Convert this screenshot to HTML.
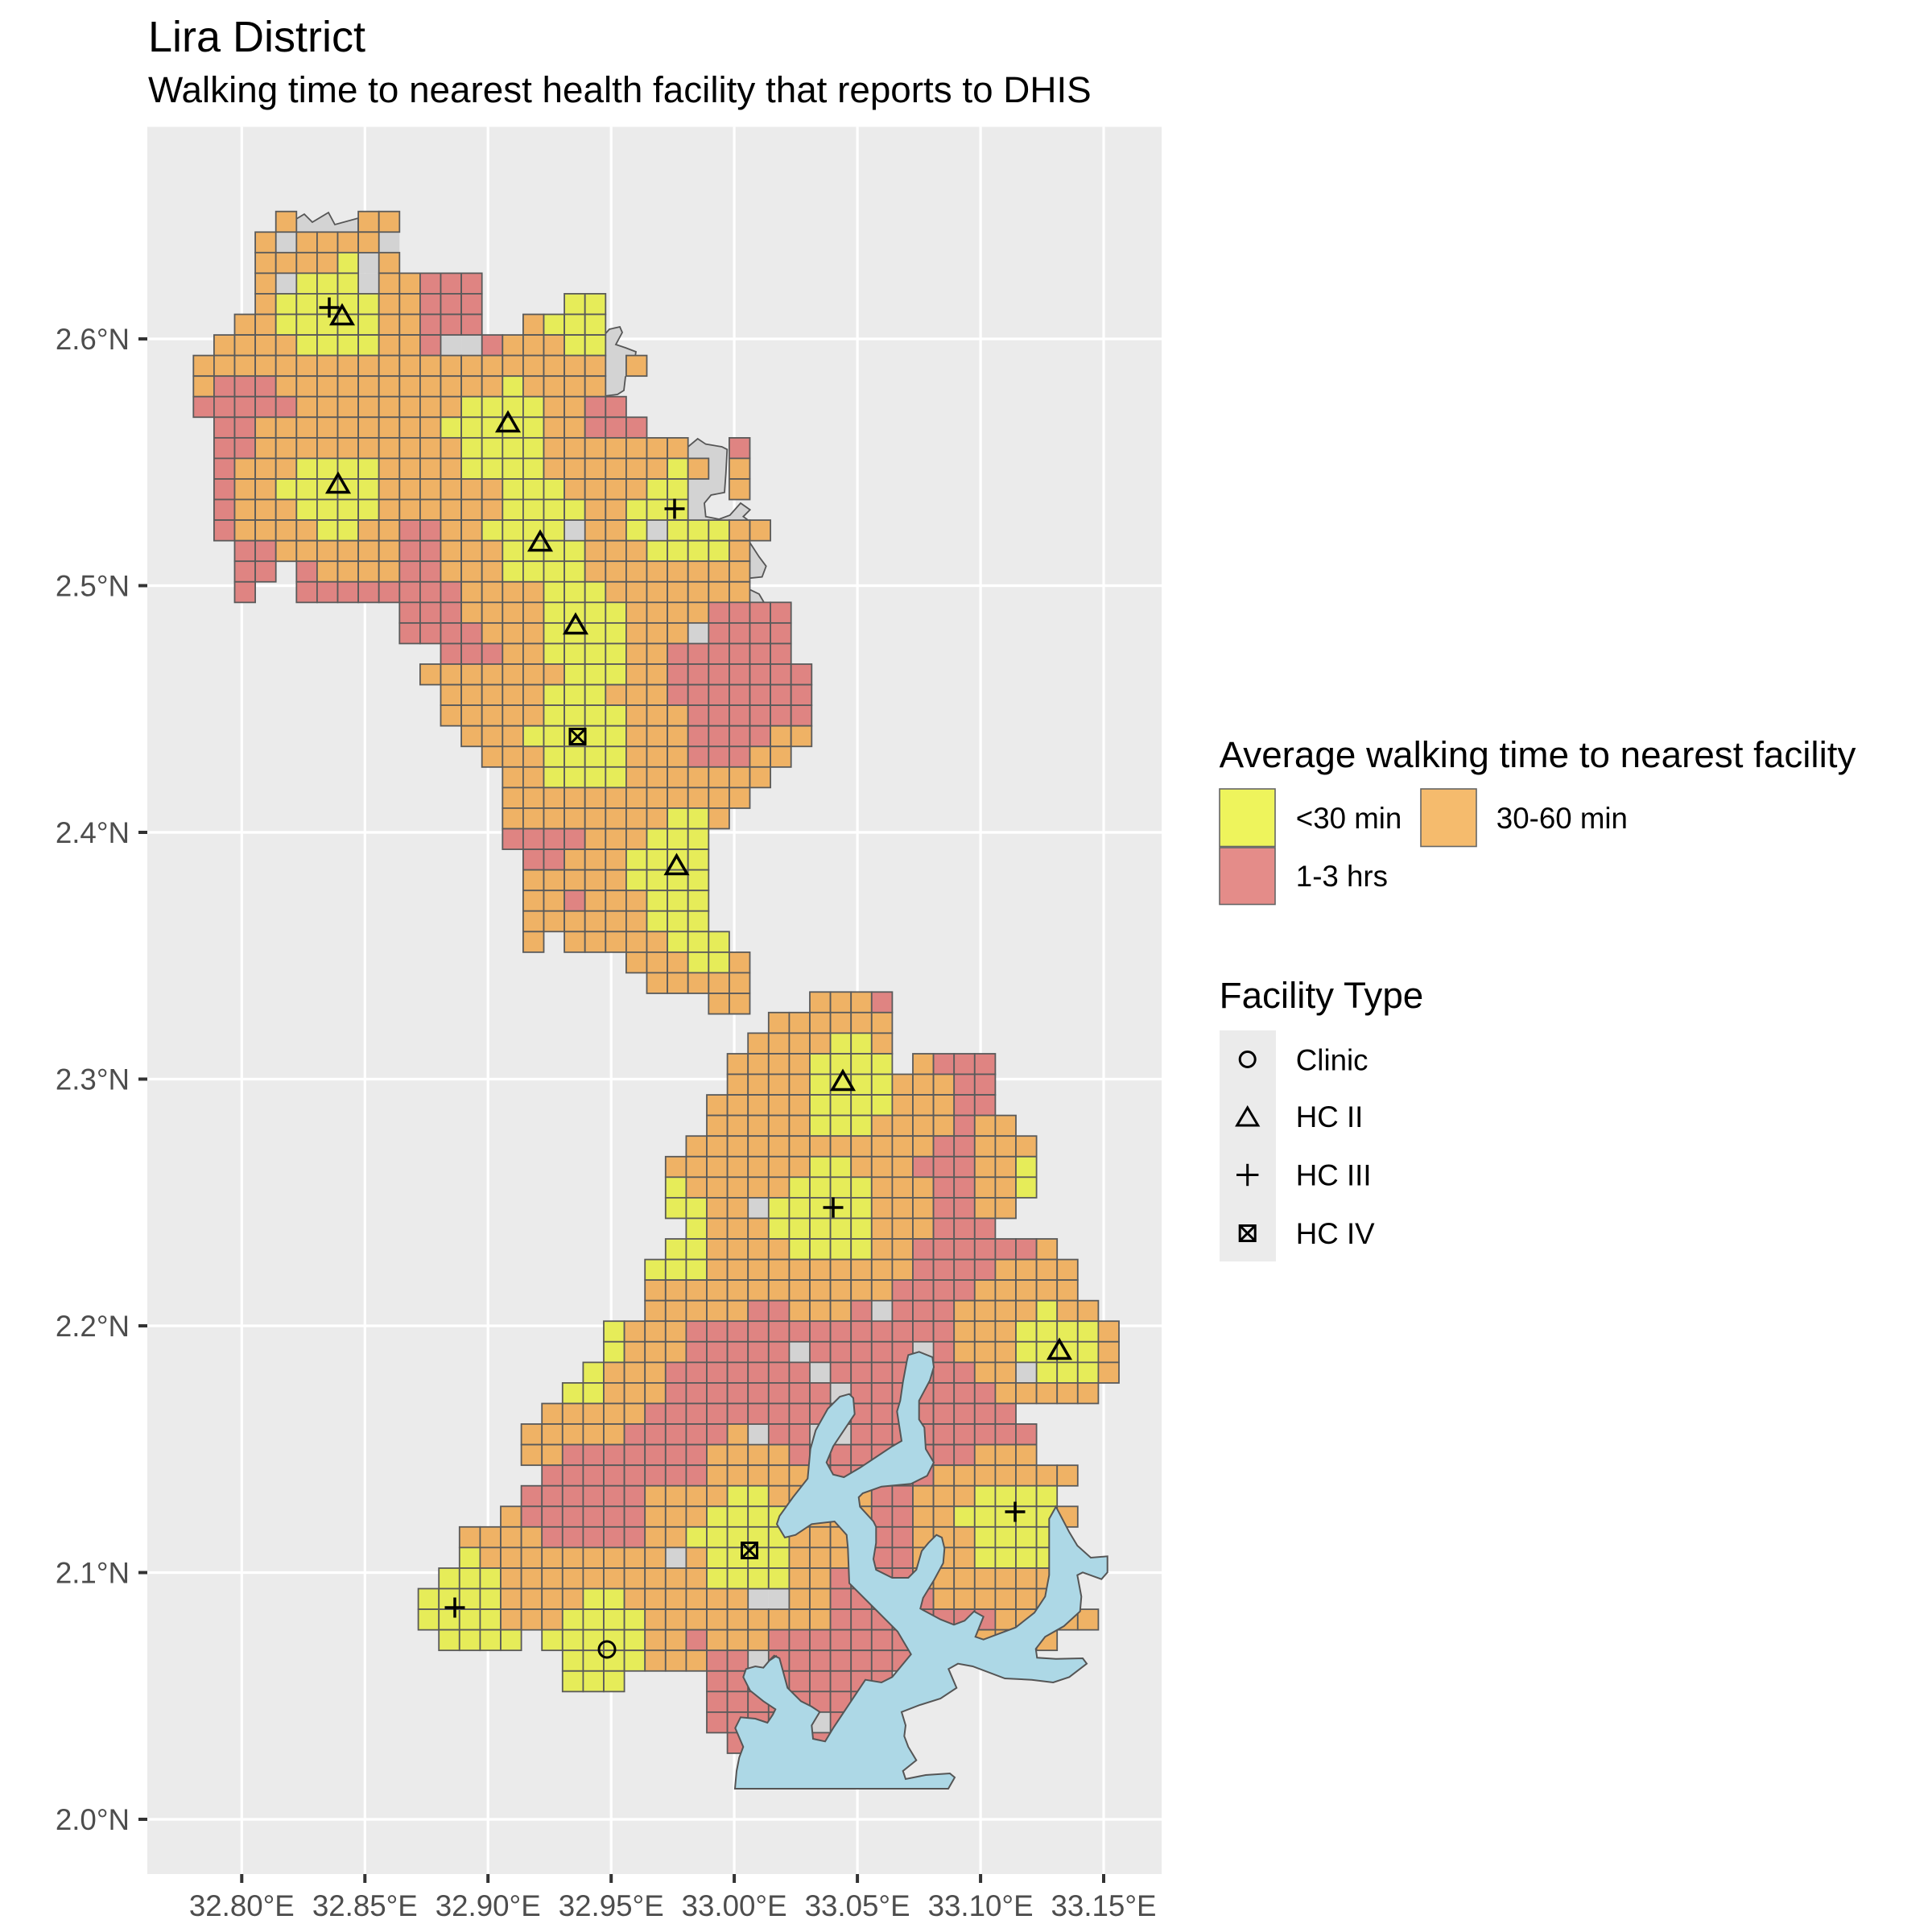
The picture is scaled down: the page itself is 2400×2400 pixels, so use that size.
<!DOCTYPE html>
<html><head><meta charset="utf-8">
<style>
html,body{margin:0;padding:0;background:#fff;}
svg{display:block;}
text{font-family:"Liberation Sans",Arial,sans-serif;}
</style></head>
<body>
<svg id="s" xmlns="http://www.w3.org/2000/svg" width="2400" height="2400" viewBox="0 0 2400 2400">
<rect x="0" y="0" width="2400" height="2400" fill="#fff"/>
<text x="184" y="64" font-size="54" fill="#000">Lira District</text>
<text x="184" y="127" font-size="45.8" fill="#000">Walking time to nearest health facility that reports to DHIS</text>
<rect x="183" y="157.6" width="1260" height="2170.4" fill="#ebebeb"/>
<g stroke="#fff" stroke-width="3.2">
<line x1="183" x2="1443" y1="421" y2="421"/>
<line x1="183" x2="1443" y1="727.5" y2="727.5"/>
<line x1="183" x2="1443" y1="1034" y2="1034"/>
<line x1="183" x2="1443" y1="1340.5" y2="1340.5"/>
<line x1="183" x2="1443" y1="1647" y2="1647"/>
<line x1="183" x2="1443" y1="1953.5" y2="1953.5"/>
<line x1="183" x2="1443" y1="2260" y2="2260"/>
<line y1="157.6" y2="2328" x1="300.3" x2="300.3"/>
<line y1="157.6" y2="2328" x1="453.3" x2="453.3"/>
<line y1="157.6" y2="2328" x1="606.2" x2="606.2"/>
<line y1="157.6" y2="2328" x1="759.2" x2="759.2"/>
<line y1="157.6" y2="2328" x1="912.1" x2="912.1"/>
<line y1="157.6" y2="2328" x1="1065.1" x2="1065.1"/>
<line y1="157.6" y2="2328" x1="1218.1" x2="1218.1"/>
<line y1="157.6" y2="2328" x1="1371" x2="1371"/>
</g>
<g stroke="#333" stroke-width="4">
<line x1="172" x2="183" y1="421" y2="421"/>
<line x1="172" x2="183" y1="727.5" y2="727.5"/>
<line x1="172" x2="183" y1="1034" y2="1034"/>
<line x1="172" x2="183" y1="1340.5" y2="1340.5"/>
<line x1="172" x2="183" y1="1647" y2="1647"/>
<line x1="172" x2="183" y1="1953.5" y2="1953.5"/>
<line x1="172" x2="183" y1="2260" y2="2260"/>
<line y1="2328" y2="2339" x1="300.3" x2="300.3"/>
<line y1="2328" y2="2339" x1="453.3" x2="453.3"/>
<line y1="2328" y2="2339" x1="606.2" x2="606.2"/>
<line y1="2328" y2="2339" x1="759.2" x2="759.2"/>
<line y1="2328" y2="2339" x1="912.1" x2="912.1"/>
<line y1="2328" y2="2339" x1="1065.1" x2="1065.1"/>
<line y1="2328" y2="2339" x1="1218.1" x2="1218.1"/>
<line y1="2328" y2="2339" x1="1371" x2="1371"/>
</g>
<g font-size="36.7" fill="#4d4d4d" text-anchor="end">
<text x="161" y="434">2.6°N</text>
<text x="161" y="740.5">2.5°N</text>
<text x="161" y="1047">2.4°N</text>
<text x="161" y="1353.5">2.3°N</text>
<text x="161" y="1660">2.2°N</text>
<text x="161" y="1966.5">2.1°N</text>
<text x="161" y="2273">2.0°N</text>
</g>
<g font-size="36.7" fill="#4d4d4d" text-anchor="middle">
<text x="300.3" y="2380">32.80°E</text>
<text x="453.3" y="2380">32.85°E</text>
<text x="606.2" y="2380">32.90°E</text>
<text x="759.2" y="2380">32.95°E</text>
<text x="912.1" y="2380">33.00°E</text>
<text x="1065.1" y="2380">33.05°E</text>
<text x="1218.1" y="2380">33.10°E</text>
<text x="1371" y="2380">33.15°E</text>
</g>
<g fill="#d3d3d3" stroke="#555" stroke-width="1.8">
<polygon points="366,290 368,272 378,266 388,276 408,264 416,279 445,271 445,290"/>
<polygon points="750.7,492 750.7,416 757,409 770,406 773,413 765,428 777,432 790,437 787,455 777,468 775,485 767,490"/>
<polygon points="852.7,750 852.7,556.7 866.7,545 876.7,551.7 896.7,555 903.3,558.3 901.7,588.3 900,611.7 883.3,615 875,625 876.7,641.7 893.3,645 906.7,640 920,625 931.7,633.3 923.3,641.7 930,646.7 930,671.7 943,691.7 951.7,703.3 946.7,716.7 930,718.3 930,731.7 943,738 950,750"/>
</g>
<g id="cells"></g>
<g id="lake"></g>
<g id="marks" fill="none" stroke="#000" stroke-width="3.5"></g>

<!-- legend -->
<text x="1514.6" y="953" font-size="45.8" fill="#000">Average walking time to nearest facility</text>
<rect x="1515" y="980" width="69" height="71.5" fill="#eef45c" stroke="#666" stroke-width="1.6"/>
<rect x="1515" y="1053" width="69" height="70.5" fill="#e48c89" stroke="#666" stroke-width="1.6"/>
<rect x="1765" y="980" width="69" height="71.5" fill="#f5bb6d" stroke="#666" stroke-width="1.6"/>
<g font-size="36.7" fill="#000">
<text x="1609.8" y="1029">&lt;30 min</text>
<text x="1858.8" y="1029">30-60 min</text>
<text x="1609.8" y="1101">1-3 hrs</text>
</g>
<text x="1514.6" y="1252" font-size="45.8" fill="#000">Facility Type</text>
<rect x="1515" y="1280" width="70" height="287" fill="#ebebeb"/>
<g fill="none" stroke="#000" stroke-width="3">
<circle cx="1549.7" cy="1316" r="9.5"/>
<polygon points="1549.7,1376 1536.7,1398 1562.7,1398"/>
<line x1="1536" x2="1563.4" y1="1459.5" y2="1459.5"/><line x1="1549.7" x2="1549.7" y1="1445.8" y2="1473.2"/>
<rect x="1540.2" y="1522.5" width="19" height="19"/><line x1="1540.2" y1="1522.5" x2="1559.2" y2="1541.5"/><line x1="1559.2" y1="1522.5" x2="1540.2" y2="1541.5"/>
</g>
<g font-size="36.7" fill="#000">
<text x="1609.8" y="1329.5">Clinic</text>
<text x="1609.8" y="1400">HC II</text>
<text x="1609.8" y="1472.5">HC III</text>
<text x="1609.8" y="1545">HC IV</text>
</g>
</svg>
<script>
(function(){
var NS="http://www.w3.org/2000/svg";
var col={y:"#e6ec59",o:"#efb265",r:"#df8482",g:"#d3d3d3"};
var N=[
[4,"o1 .3 o2"],[3,"o1 g1 o4 g1"],[3,"o4 y1 g1 o1"],[3,"o1 g1 y3 g1 o2 r3"],[3,"o1 y5 o2 r3 .4 y2"],
[2,"o2 y5 o2 r3 .2 o1 y3"],[1,"o4 y4 o2 r1 g2 r1 o3 y2"],[0,"o20 g1 o1"],[0,"o1 r3 o11 y1 o4"],
[0,"r5 o8 y4 o2 r2"],[1,"r2 o9 y5 o2 r3"],[1,"r2 o10 y4 o7 .2 r1"],[1,"r1 o3 y4 o4 y4 o6 y1 o1 .1 o1"],
[1,"r1 o2 y5 o6 y3 o4 y2 .2 o1"],[1,"r1 o3 y4 o6 y4 o2 y3"],[1,"r1 o4 y2 o2 r2 o2 y4 g1 o2 y1 g1 y3 o2"],
[2,"r2 o6 r2 o3 y4 o3 y4 o1"],[2,"r2 .1 r1 o4 r2 o3 y4 o8"],[2,"r1 .2 r8 o4 y3 o7"],
[10,"r3 o4 y4 o4 r4"],[10,"r4 o3 y4 o3 g1 r4"],[12,"r3 o2 y4 o2 r6"],[11,"o7 y3 o2 r7"],
[12,"o5 y3 o3 r7"],[12,"o5 y4 o3 r6"],[13,"o3 y5 o3 r4 o2"],[14,"o3 y4 o3 r3 o2"],[15,"o2 y4 o7"],
[15,"o12"],[15,"o8 y2 o1"],[15,"r4 o3 y3"],[16,"r2 o3 y4"],[16,"o5 y4"],[16,"o2 r1 o3 y3"],
[16,"o6 y3"],[16,"o1 .1 o5 y3"],[21,"o3 y2 o1"],[22,"o5"],[25,"o2"]
];
var S=[
[30,"o3 r1"],[28,"o6"],[27,"o4 y2 o1"],[26,"o4 y4 .1 o1 r3"],[26,"o4 y4 o3 r2"],[25,"o5 y4 o3 r2"],
[25,"o5 y3 o4 r1 o2"],[24,"o12 r2 o3"],[23,"o7 y2 o3 r3 o2 y1"],[23,"y1 o5 y4 o3 r2 o2 y1"],
[23,"y2 o2 g1 y5 o3 r2 o2"],[24,"y1 o3 y5 o3 r3"],[23,"y2 o4 y4 o2 r6 o1"],[22,"y3 o10 r4 o4"],
[22,"o12 r4 o5"],[22,"o5 r2 o3 r1 g1 r3 o4 y1 o2"],[20,"y1 o3 r13 o3 y4 o1"],
[20,"y1 o3 r5 g1 r5 g1 r1 o3 y4 o1"],[19,"y1 o3 r7 g1 r7 o2 g1 y3 o1"],[18,"y2 o3 r8 g1 r7 o5"],
[17,"o5 r18"],[16,"o5 r5 o1 g1 r2 g2 r9"],[16,"o2 r7 o4 r9 o3"],[17,"r8 o6 r5 o7"],
[16,"r6 o4 y2 o5 r2 o3 y4"],[15,"o1 r6 o3 y4 o4 r2 o2 y5 o1"],[13,"o4 r5 o2 y5 o4 r2 o3 y4"],
[13,"y1 o9 g1 o1 y4 o3 r3 o3 y4"],[12,"y3 o10 y4 o2 r4 o7"],[11,"y4 o4 y2 o6 g2 o2 r5 o6"],
[11,"y4 o3 y4 o9 r8 o5"],[12,"y4 .1 y5 o2 r1 o3 r10 o4"],[18,"y4 o3 r2 g1 r7"],[18,"y3 .4 r9"],
[25,"r8"],[25,"r5 g1 r1"],[26,"r1 .3 r1"]
];
function expand(s){var out="";s.split(" ").forEach(function(t){var c=t[0],n=parseInt(t.slice(1),10);for(var i=0;i<n;i++)out+=c;});return out;}
var g=document.getElementById("cells");
function draw(rows,x0,y0,r0,gray){
 for(var i=0;i<rows.length;i++){
  var st=rows[i][0],s=expand(rows[i][1]);
  for(var j=0;j<s.length;j++){
   var ch=s[j]; if(!col[ch])continue;
   if((ch==="g")!==gray)continue;
   var e=document.createElementNS(NS,"rect");
   e.setAttribute("x",(x0+25.6*(st+j)).toFixed(1));
   e.setAttribute("y",(y0+25.56*(r0+i)).toFixed(1));
   e.setAttribute("width","25.6");e.setAttribute("height","25.56");
   e.setAttribute("fill",col[ch]);
   if(!gray){e.setAttribute("stroke","#5a5a5a");e.setAttribute("stroke-width","1.8");}
   g.appendChild(e);
  }
 }
}
draw(N,240.3,262.7,0,true);draw(S,238,261,38,true);
draw(N,240.3,262.7,0,false);draw(S,238,261,38,false);

var z8=[[1230,1530],[1240,1480],[1255,1440],[1225,1370],[1245,1330],[1300,1335],[1345,1350],[1365,1320],[1375,1300],[1330,1270],[1280,1230],[1255,1180],[1265,1150],[1300,1140],[1330,1145],[1355,1115],[1380,1100]];
var z9=[[0,1120],[20,1100],[40,1110],[70,1220],[120,1270],[160,1290],[190,1310],[160,1360],[165,1410],[210,1420],[240,1370],[300,1280],[360,1190],[420,1200],[460,1180],[530,1095],[480,1010],[400,930],[300,830],[295,700],[290,650],[245,600],[160,610],[100,650],[60,660],[30,610],[40,580],[90,510],[145,440],[155,330],[175,260],[220,180],[265,135],[300,125],[315,140],[320,200],[290,245],[240,320],[215,380],[240,425],[280,435],[340,400],[400,360],[460,320],[495,300],[478,190],[490,150],[500,80],[515,0],[520,-20],[560,-32],[610,-12],[615,25],[600,75],[560,150],[560,220],[580,250],[585,330],[615,380],[590,430],[530,460],[420,470],[350,495],[335,510],[340,545],[390,600],[400,620],[400,680],[390,740],[400,780],[460,810],[520,810],[550,780],[570,710],[595,680],[625,650],[645,660],[655,700],[650,755],[615,820],[575,885],[565,925],[640,965],[690,985],[730,970],[765,935],[800,955],[770,1030],[800,1040],[840,1025],[920,995],[990,940],[1030,880],[1045,800],[1045,590],[1070,545],[1120,640],[1150,690],[1200,735],[1262,730],[1262,790],[1240,815],[1170,790],[1150,800],[1165,880],[1160,935],[1100,990],[1030,1030],[995,1075],[1000,1108],[1070,1112],[1170,1110],[1185,1130],[1120,1180],[1060,1200],[980,1190],[880,1185],[760,1140],[705,1130],[670,1150],[700,1220],[640,1260],[560,1285],[495,1310],[510,1360],[505,1400],[520,1440],[550,1490],[500,1530]];
var pts=[[913,2222]];
z8.forEach(function(p){pts.push([505+p[0]/3,1690+p[1]/3]);});
z9.forEach(function(p){pts.push([955+p[0]/3,1690+p[1]/3]);});
pts.push([1125,2210],[1150,2205],[1180,2203],[1186,2208],[1178,2222]);
var lp=document.createElementNS(NS,"polygon");
lp.setAttribute("points",pts.map(function(p){return p[0].toFixed(1)+","+p[1].toFixed(1);}).join(" "));
lp.setAttribute("fill","#add8e6");lp.setAttribute("stroke","#555");lp.setAttribute("stroke-width","2");
document.getElementById("lake").appendChild(lp);

var m=document.getElementById("marks");
function add(tag,attrs){var e=document.createElementNS(NS,tag);for(var k in attrs)e.setAttribute(k,attrs[k]);m.appendChild(e);}
[[425,392],[420,601],[631,525],[671,673],[715,776],[840.5,1075],[1047,1343],[1316,1677]].forEach(function(p){
 add("polygon",{points:(p[0])+","+(p[1]-12)+" "+(p[0]-13)+","+(p[1]+10.5)+" "+(p[0]+13)+","+(p[1]+10.5)});});
[[409,382],[838,632],[1035,1500],[1261,1878],[565,1997]].forEach(function(p){
 add("line",{x1:p[0]-12.5,x2:p[0]+12.5,y1:p[1],y2:p[1]});add("line",{x1:p[0],x2:p[0],y1:p[1]-12.5,y2:p[1]+12.5});});
[[717.5,915],[931,1926]].forEach(function(p){
 add("rect",{x:p[0]-9.5,y:p[1]-9.5,width:19,height:19,"stroke-width":3});
 add("line",{x1:p[0]-9.5,y1:p[1]-9.5,x2:p[0]+9.5,y2:p[1]+9.5,"stroke-width":3});
 add("line",{x1:p[0]+9.5,y1:p[1]-9.5,x2:p[0]-9.5,y2:p[1]+9.5,"stroke-width":3});});
add("circle",{cx:754,cy:2049,r:10,"stroke-width":3});
})();
</script>
</body></html>
